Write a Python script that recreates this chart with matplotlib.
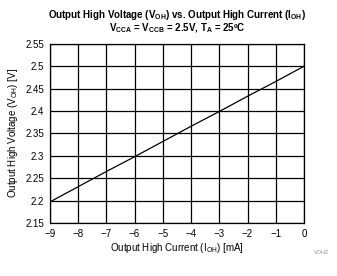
import numpy as np
import matplotlib
matplotlib.use("Agg")
import matplotlib.pyplot as plt

plt.rcParams['font.family'] = ['Liberation Sans', 'DejaVu Sans']
plt.rcParams['mathtext.fontset'] = 'custom'
plt.rcParams['mathtext.rm'] = 'Liberation Sans'
plt.rcParams['mathtext.it'] = 'Liberation Sans'
plt.rcParams['mathtext.bf'] = 'Liberation Sans:bold'

# Output high current (mA) and output high voltage (V)
i_oh = [-9, -8, -7, -6, -5, -4, -3, -2, -1, 0]
v_oh = [2.197, 2.231, 2.265, 2.298, 2.332, 2.366, 2.399, 2.433, 2.466, 2.5]

x_ticks = [-9, -8, -7, -6, -5, -4, -3, -2, -1, 0]
y_ticks = [2.15, 2.2, 2.25, 2.3, 2.35, 2.4, 2.45, 2.5, 2.55]
y_labels = ["2.15", "2.2", "2.25", "2.3", "2.35", "2.4", "2.45", "2.5", "2.55"]

fig = plt.figure(figsize=(3.37, 2.76), dpi=100)
ax = fig.add_axes([0.148, 0.192, 0.754, 0.649])

ax.plot(i_oh, v_oh, color="black", linewidth=0.9)

ax.set_xlim(-9, 0)
ax.set_ylim(2.15, 2.55)
ax.set_xticks(x_ticks)
ax.set_yticks(y_ticks)
ax.set_yticklabels(y_labels)
ax.grid(True, color="black", linewidth=0.9)
for s in ax.spines.values():
    s.set_linewidth(0.9)
ax.tick_params(length=0, labelsize=7, pad=4)

ax.set_xlabel(r"Output High Current (I$_{\mathrm{OH}}$) [mA]", fontsize=7, labelpad=2)
ax.set_ylabel(r"Output High Voltage (V$_{\mathrm{OH}}$) [V]", fontsize=7, labelpad=4)

fig.text(0.525, 0.945, r"Output High Voltage (V$_{\mathbf{OH}}$) vs. Output High Current (I$_{\mathbf{OH}}$)",
         ha="center", va="center", fontsize=7, fontweight="bold")
fig.text(0.525, 0.898, r"V$_{\mathbf{CCA}}$ = V$_{\mathbf{CCB}}$ = 2.5V, T$_{\mathbf{A}}$ = 25ºC",
         ha="center", va="center", fontsize=7, fontweight="bold")
fig.text(0.975, 0.085, "VOH2", ha="right", va="center", fontsize=4, color="#999999")

fig.savefig("out.png", dpi=100)
